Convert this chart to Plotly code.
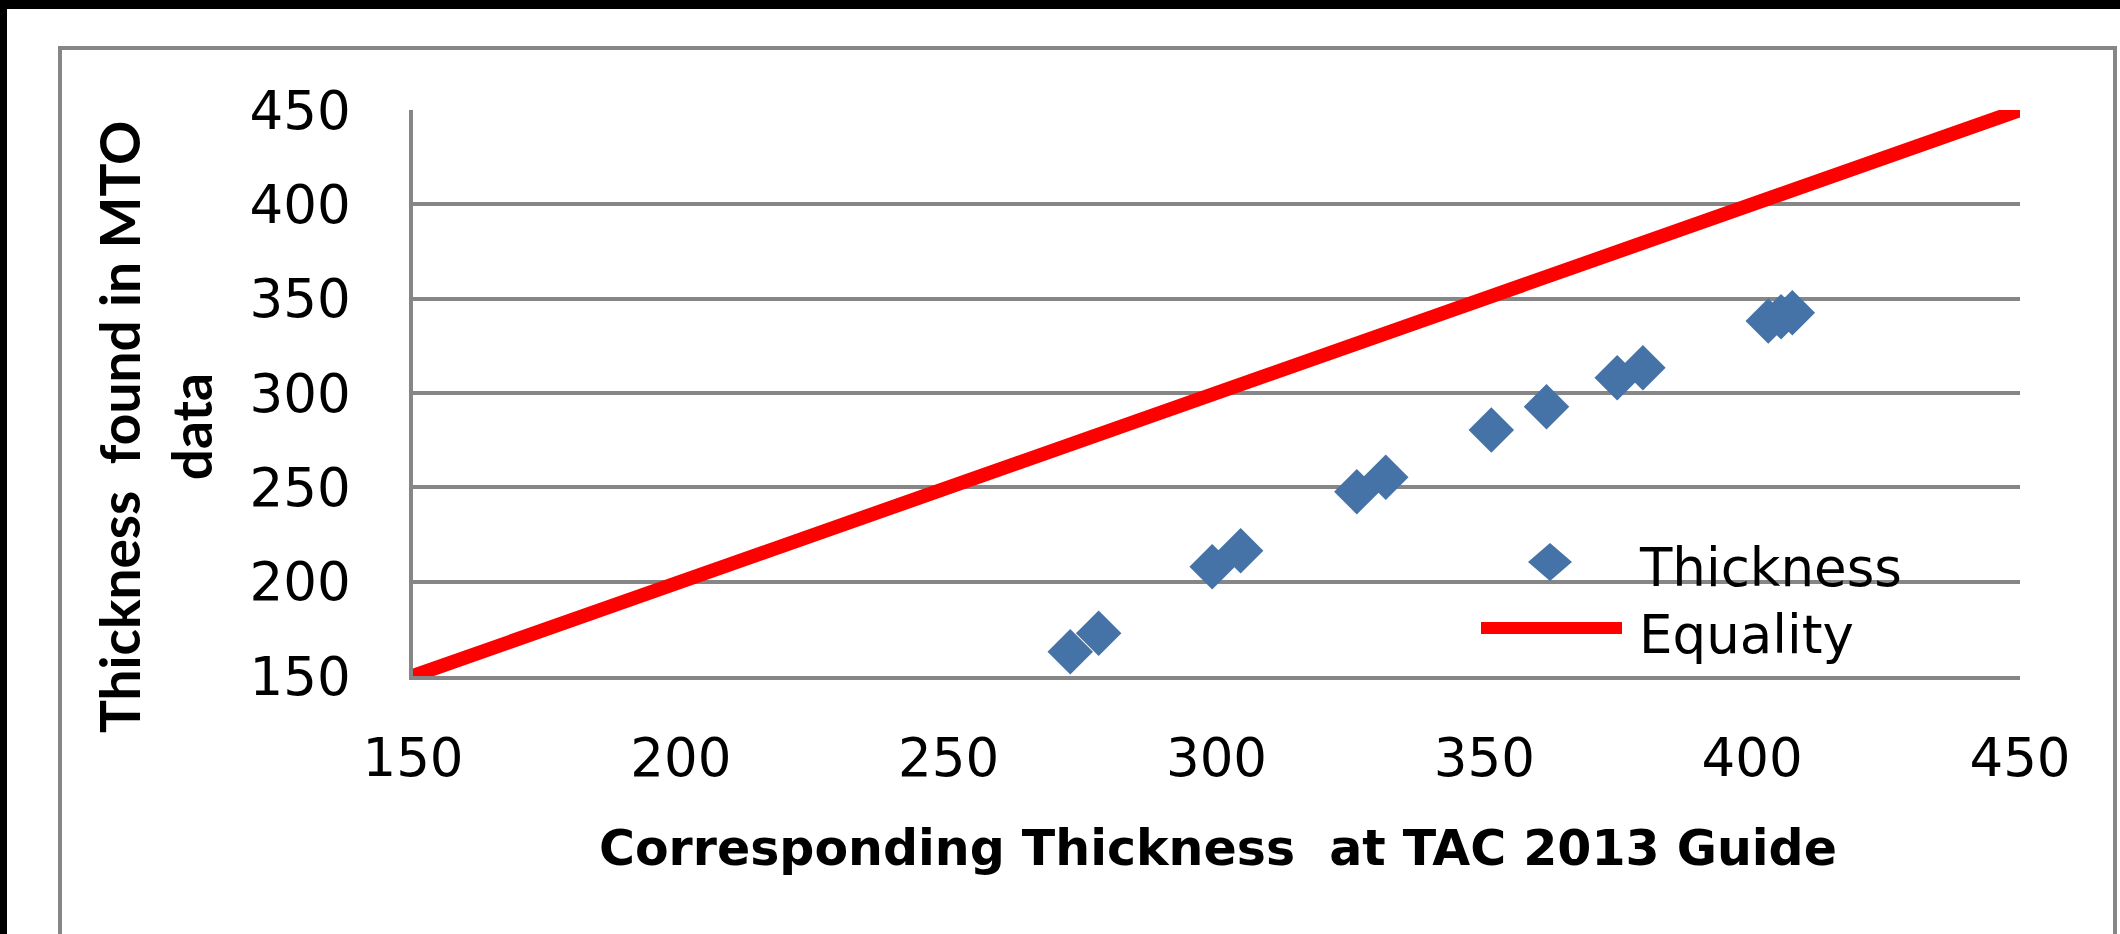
import plotly.graph_objects as go

# Corresponding thickness from the TAC 2013 guide (x) vs thickness found in MTO data (y)
tac_thickness = [272.7, 278.0, 299.2, 304.5, 326.2, 331.6, 351.3, 361.6, 374.8, 379.6, 403.0, 405.4, 407.5]
mto_thickness = [162.9, 172.6, 207.9, 216.4, 247.7, 255.3, 280.4, 292.7, 308.1, 313.4, 338.2, 340.4, 342.6]

# Line of equality
equality_x = [150, 450]
equality_y = [150, 450]

axis_ticks = [150, 200, 250, 300, 350, 400, 450]

W, H = 2120, 934
ML, MR, MT, MB = 413, 100, 110, 258
PW, PH = W - ML - MR, H - MT - MB

BLUE = "#4572A7"
RED = "#FF0000"
GRAY = "#868686"


def px(x):
    return (x - ML) / PW


def py(y):
    return (H - MB - y) / PH


fig = go.Figure()
fig.add_trace(go.Scatter(
    x=tac_thickness, y=mto_thickness, mode="markers", name="Thickness",
    marker=dict(symbol="diamond", size=35, color=BLUE, line=dict(width=0)),
    showlegend=False,
))
fig.add_trace(go.Scatter(
    x=equality_x, y=equality_y, mode="lines", name="Equality",
    line=dict(color=RED, width=14), showlegend=False,
))

shapes = [
    # chart frame
    dict(type="rect", xref="paper", yref="paper", x0=px(60), x1=px(2115), y0=py(48), y1=py(980),
         line=dict(color=GRAY, width=4), fillcolor="rgba(0,0,0,0)", layer="below"),
    # dark edges
    dict(type="rect", xref="paper", yref="paper", x0=px(-20), x1=px(2140), y0=py(9), y1=py(-20),
         line=dict(width=0), fillcolor="black"),
    dict(type="rect", xref="paper", yref="paper", x0=px(-20), x1=px(7), y0=py(960), y1=py(-20),
         line=dict(width=0), fillcolor="black"),
    # legend symbols
    dict(type="path", xref="paper", yref="paper", xsizemode="pixel", ysizemode="pixel",
         xanchor=px(1550), yanchor=py(562), path="M-22,0 L0,19 L22,0 L0,-19 Z",
         fillcolor=BLUE, line=dict(width=0)),
    dict(type="line", xref="paper", yref="paper", x0=px(1481), x1=px(1622), y0=py(628), y1=py(628),
         line=dict(color=RED, width=12)),
]

annotations = [
    dict(text="Thickness", x=px(1637), y=py(567.5), xref="paper", yref="paper",
         xanchor="left", yanchor="middle", showarrow=False,
         font=dict(family="DejaVu Sans", size=53, color="black")),
    dict(text="Equality", x=px(1637), y=py(634), xref="paper", yref="paper",
         xanchor="left", yanchor="middle", showarrow=False,
         font=dict(family="DejaVu Sans", size=53, color="black")),
    dict(text="<b>Corresponding Thickness  at TAC 2013 Guide</b>", x=px(1218), y=py(848),
         xref="paper", yref="paper", xanchor="center", yanchor="middle", showarrow=False,
         font=dict(family="DejaVu Sans", size=49, color="black")),
    dict(text="<b>Thickness  found in MTO<br>data</b>", x=px(155), y=py(427),
         xref="paper", yref="paper", xanchor="center", yanchor="middle", showarrow=False,
         textangle=-90, align="center",
         font=dict(family="Lato", size=55, color="black")),
]

fig.update_layout(
    width=W, height=H,
    margin=dict(l=ML, r=MR, t=MT, b=MB, pad=0),
    paper_bgcolor="white", plot_bgcolor="white",
    shapes=shapes, annotations=annotations,
    showlegend=False,
    xaxis=dict(range=[150, 450], tickvals=axis_ticks, showgrid=False, zeroline=False,
               showline=True, linecolor=GRAY, linewidth=3.5, ticks="",
               ticklabelstandoff=33,
               tickfont=dict(family="DejaVu Sans", size=53, color="black")),
    yaxis=dict(range=[150, 450], tickvals=axis_ticks, showgrid=True, gridcolor=GRAY, gridwidth=3.5,
               zeroline=False, showline=True, linecolor=GRAY, linewidth=3.5, ticks="",
               ticklabelstandoff=48,
               tickfont=dict(family="DejaVu Sans", size=53, color="black")),
)

fig.write_html("out.html")
